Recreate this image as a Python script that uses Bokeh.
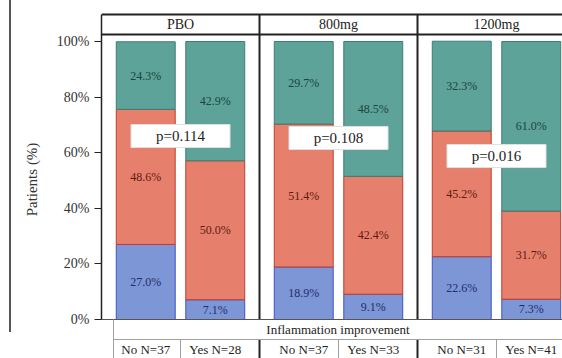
from bokeh.plotting import figure
from bokeh.models import Range1d, FixedTicker, PrintfTickFormatter, ColumnDataSource, InlineStyleSheet
from bokeh.embed import file_html
from bokeh.resources import INLINE
from bokeh.core.properties import value

# ---------------- data ----------------
groups = ["PBO", "800mg", "1200mg"]
responses = ["No", "Yes"]
n_counts = [37, 28, 37, 33, 31, 41]
pct_low = [27.0, 7.1, 18.9, 9.1, 22.6, 7.3]      # blue (bottom)
pct_mid = [48.6, 50.0, 51.4, 42.4, 45.2, 31.7]   # salmon (middle)
pct_high = [24.3, 42.9, 29.7, 48.5, 32.3, 61.0]  # teal (top)
p_values = ["0.114", "0.108", "0.016"]
y_ticks = [0, 20, 40, 60, 80, 100]
strip_title = "Inflammation improvement"
y_title = "Patients (%)"

# ---------------- layout (pixels / style) ----------------
W, H = 562, 358
LEFT = 101           # frame left in canvas px
PX_X = 158.0         # px per panel
PX_Y = 2.78          # px per percent
ZERO_PX = 319        # canvas y of 0%
x_end = (W - LEFT) / PX_X
y_top = ZERO_PX / PX_Y
y_bot = -(H - ZERO_PX) / PX_Y
hdr_top = (ZERO_PX - 14) / PX_Y
hdr_bot = (ZERO_PX - 34) / PX_Y
row_line = -20 / PX_Y
n_row_mid = -30 / PX_Y
strip_mid = -10 / PX_Y
table_left = 12 / PX_X
bar_off = [0.28, 0.72]
bar_w = 0.373
p_box_y = [66.0, 65.3, 58.8]
FONT = "Liberation Serif"

fill_cols = ["#7D96D6", "#E6806C", "#5DA399"]
line_cols = ["#4050C8", "#C23A2C", "#3D7D73"]
text_cols = ["#1F2F6A", "#5E1B10", "#1C4540"]

p = figure(width=W, height=H, output_backend="svg", toolbar_location=None,
           x_range=Range1d(0, x_end), y_range=Range1d(y_bot, y_top),
           x_axis_location=None, min_border_left=LEFT, min_border_right=0,
           min_border_top=0, min_border_bottom=0)
p.grid.visible = False
p.outline_line_color = None
p.background_fill_color = "white"
p.border_fill_color = "white"

# bar positions
xs = []
for gi, g in enumerate(groups):
    for si, s in enumerate(responses):
        xs.append(gi + bar_off[si])
b0 = [0.0] * len(xs)
b1 = pct_low
b2 = [a + b for a, b in zip(pct_low, pct_mid)]
b3 = [a + b for a, b in zip(b2, pct_high)]

for bottoms, tops, vals, fc, lc, tc in [
        (b0, b1, pct_low, fill_cols[0], line_cols[0], text_cols[0]),
        (b1, b2, pct_mid, fill_cols[1], line_cols[1], text_cols[1]),
        (b2, b3, pct_high, fill_cols[2], line_cols[2], text_cols[2])]:
    src = ColumnDataSource(dict(x=xs, bottom=bottoms, top=tops,
                                ym=[(a + b) / 2 for a, b in zip(bottoms, tops)],
                                lab=["%.1f%%" % v for v in vals]))
    p.vbar(x="x", bottom="bottom", top="top", width=bar_w, source=src,
           fill_color=fc, line_color=lc, line_width=1)
    p.text(x="x", y="ym", text="lab", source=src, text_align="center",
           text_baseline="middle", text_font=value(FONT),
           text_font_size="12px", text_color=tc)

# p-value boxes
gx = [gi + 0.5 for gi in range(len(groups))]
psrc = ColumnDataSource(dict(x=gx, y=p_box_y, t=["p=" + v for v in p_values]))
p.rect(x="x", y="y", width=99 / PX_X, height=23 / PX_Y, source=psrc,
       fill_color="white", line_color="#E0E0E0", line_width=1)
p.text(x="x", y="y", text="t", source=psrc, text_align="center",
       text_baseline="middle", text_font=value(FONT), text_font_size="15px",
       text_color="#222222")

# header strip
p.quad(left=0, right=x_end, bottom=hdr_bot, top=hdr_top, fill_color="white", line_color=None)
p.segment(x0=[0, 0], y0=[hdr_top, hdr_bot], x1=[x_end, x_end], y1=[hdr_top, hdr_bot],
          line_color="#222222", line_width=2)
p.text(x=gx, y=[(hdr_top + hdr_bot) / 2] * len(groups), text=groups,
       text_align="center", text_baseline="middle", text_font=value(FONT),
       text_font_size="14px", text_color="#222222")

# panel separators
seps = [float(i) for i in range(1, len(groups))]
p.segment(x0=seps, y0=[0] * len(seps), x1=seps, y1=[hdr_top] * len(seps),
          line_color="#222222", line_width=2)
p.segment(x0=seps, y0=[row_line] * len(seps), x1=seps, y1=[y_bot] * len(seps),
          line_color="#222222", line_width=2)

# bottom table
p.segment(x0=[0], y0=[0], x1=[x_end], y1=[0], line_color="#555555", line_width=1)
p.segment(x0=[table_left], y0=[row_line], x1=[x_end], y1=[row_line],
          line_color="#A0A0A0", line_width=1)
p.segment(x0=[table_left], y0=[0], x1=[table_left], y1=[y_bot],
          line_color="#A0A0A0", line_width=1)
p.segment(x0=gx, y0=[row_line] * len(gx), x1=gx, y1=[y_bot] * len(gx),
          line_color="#A0A0A0", line_width=1)
p.text(x=[(table_left + x_end) / 2], y=[strip_mid], text=[strip_title],
       text_align="center", text_baseline="middle", text_font=value(FONT),
       text_font_size="13px", text_color="#222222")
n_labels = []
for gi in range(len(groups)):
    for si, s in enumerate(responses):
        n_labels.append("%s N=%d" % (s, n_counts[gi * len(responses) + si]))
p.text(x=xs, y=[n_row_mid] * len(xs), text=n_labels, text_align="center",
       text_baseline="middle", text_font=value(FONT), text_font_size="13px",
       text_color="#222222")

# y axis
ax = p.yaxis[0]
ax.ticker = FixedTicker(ticks=y_ticks)
ax.formatter = PrintfTickFormatter(format="%d%%")
ax.bounds = (0, hdr_top)
ax.axis_line_color = "#222222"
ax.axis_line_width = 1.5
ax.major_tick_line_color = "#222222"
ax.major_tick_out = 7
ax.major_tick_in = 0
ax.minor_tick_line_color = None
ax.major_label_text_font = FONT
ax.major_label_text_font_size = "14px"
ax.major_label_text_color = "#333333"
ax.major_label_standoff = 5
ax.axis_label = y_title
ax.axis_label_text_font = FONT
ax.axis_label_text_font_style = "normal"
ax.axis_label_text_font_size = "15px"
ax.axis_label_text_color = "#333333"
ax.axis_label_standoff = 14

# outer frame line at the left edge of the figure
p.stylesheets = [InlineStyleSheet(css=
    ":host { position: relative; }"
    ":host::after { content: ''; position: absolute; left: 9px; top: 0px;"
    " width: 1.5px; height: 332px; background: #555555; z-index: 10; }")]

open("out.html", "w").write(file_html(p, INLINE))
